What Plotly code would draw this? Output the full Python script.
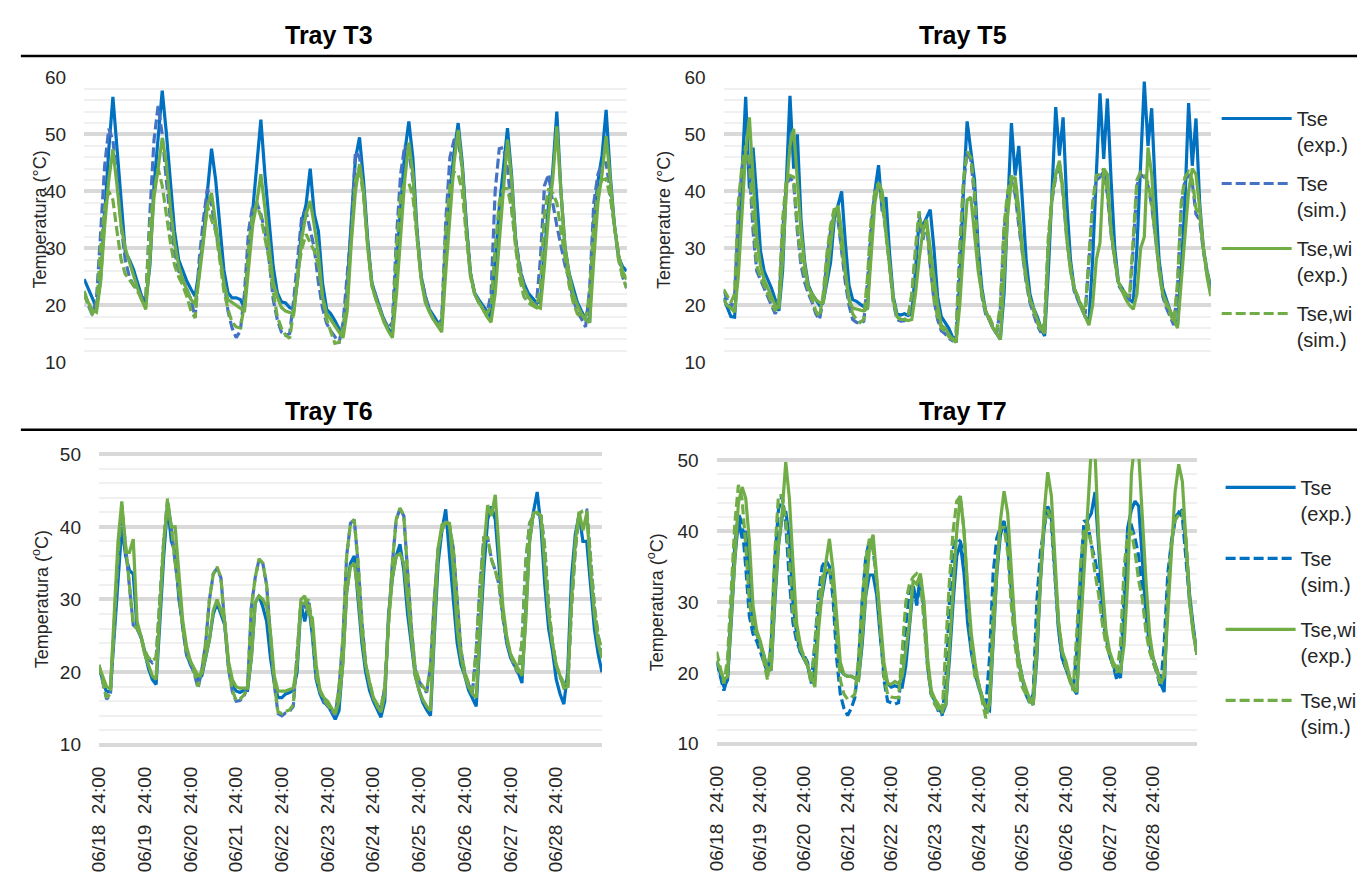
import plotly.graph_objects as go

# ---------------------------------------------------------------------------
# Data: surface temperatures sampled every 2 h from 06/18 24:00 over 11 days
# (one row = one day, values at 0,2,...,22 h; last value closes day 11)
# ---------------------------------------------------------------------------
HOURS = list(range(0, 266, 2))
DAYS = [h / 24 for h in HOURS]

DATES = ["06/18", "06/19", "06/20", "06/21", "06/22", "06/23",
         "06/24", "06/25", "06/26", "06/27", "06/28"]
TIME_OF_DAY = "24:00"

SERIES_NAMES = ["Tse<br>(exp.)", "Tse<br>(sim.)", "Tse,wi<br>(exp.)", "Tse,wi<br>(sim.)"]

# ---- Tray T3 ----
T3_TSE_EXP = [
    24.6, 23.0, 21.3, 19.6, 24.5, 36.0, 47.4, 56.6, 47.0, 37.7, 29.4, 28.0,
    26.3, 23.9, 21.6, 20.6, 27.0, 41.0, 50.0, 57.7, 50.3, 42.2, 33.0, 28.0,
    26.0, 24.2, 22.8, 21.6, 26.2, 32.0, 40.0, 47.5, 42.0, 34.2, 26.2, 22.2,
    21.3, 21.3, 21.0, 19.6, 29.6, 36.5, 44.5, 52.6, 42.8, 34.2, 26.8, 22.2,
    20.6, 20.4, 19.6, 19.3, 25.0, 34.8, 37.7, 44.0, 36.0, 33.0, 23.9, 19.3,
    18.5, 17.3, 15.9, 15.0, 22.8, 34.8, 45.7, 49.5, 41.7, 31.4, 23.9, 21.6,
    19.3, 17.3, 15.9, 15.0, 27.3, 37.7, 46.8, 52.3, 45.7, 33.0, 25.0, 21.6,
    19.3, 18.2, 17.0, 16.5, 27.3, 40.0, 46.8, 52.0, 45.0, 34.2, 25.6, 22.2,
    21.0, 19.9, 18.8, 17.9, 27.3, 37.1, 44.0, 51.1, 42.8, 31.4, 26.2, 23.9,
    22.2, 21.3, 20.5, 20.5, 29.6, 37.7, 43.4, 54.0, 40.0, 30.2, 25.6, 22.8,
    20.5, 19.0, 17.6, 17.3, 34.8, 41.7, 46.3, 54.3, 42.8, 34.2, 28.5, 26.8,
    26.0]
T3_TSE_SIM = [
    22.2, 20.0, 18.3, 21.0, 32.5, 44.5, 51.0, 49.0, 42.5, 34.0, 28.0, 25.0,
    23.5, 22.8, 21.5, 21.0, 36.0, 49.0, 55.0, 50.0, 42.0, 35.0, 29.5, 26.0,
    24.5, 22.8, 21.0, 17.8, 28.0, 35.0, 40.5, 37.5, 33.0, 29.0, 24.5, 19.0,
    16.0, 14.3, 15.5, 22.0, 33.0, 37.5, 38.0, 36.0, 33.0, 28.0, 21.0, 17.5,
    15.3, 14.7, 15.0, 21.0, 28.0, 36.0, 36.5, 33.0, 30.0, 24.0, 19.5, 16.8,
    15.5, 14.5, 13.3, 17.0, 26.0, 33.5, 47.0, 46.0, 40.0, 31.0, 23.9, 21.6,
    19.3, 17.5, 16.0, 17.0, 32.0, 43.0, 48.0, 47.0, 42.0, 33.0, 25.0, 21.6,
    19.0, 17.5, 16.5, 17.5, 35.0, 46.0, 49.0, 49.0, 44.0, 34.0, 25.6, 22.0,
    20.5, 19.5, 18.5, 22.0, 40.0, 47.5, 47.7, 44.0, 37.0, 31.5, 27.0, 23.5,
    21.5, 20.5, 19.9, 28.0, 41.0, 43.0, 38.0, 34.0, 30.5, 27.0, 24.5, 21.0,
    19.0, 17.5, 16.2, 23.0, 38.0, 43.0, 45.0, 45.0, 40.0, 34.0, 29.0, 25.0,
    23.0]
T3_TSEWI_EXP = [
    22.5, 20.5, 19.2, 18.8, 24.0, 34.0, 42.0, 47.4, 41.0, 34.0, 30.0, 27.5,
    25.0, 23.0, 21.0, 19.3, 28.0, 39.0, 44.0, 49.4, 45.0, 37.0, 31.0, 27.0,
    24.5, 22.8, 21.0, 20.3, 25.0, 31.0, 37.5, 39.7, 34.5, 30.0, 23.9, 21.0,
    20.5, 20.0, 19.5, 18.8, 27.0, 34.0, 38.0, 43.0, 37.0, 30.0, 24.0, 21.5,
    19.6, 19.0, 18.7, 18.5, 25.0, 32.0, 36.0, 38.3, 34.0, 29.0, 21.5, 18.5,
    17.5, 16.3, 15.3, 14.3, 19.0, 31.0, 40.0, 44.8, 40.0, 30.0, 23.5, 21.0,
    19.0, 17.0, 15.5, 14.3, 22.0, 33.0, 42.0, 48.6, 43.0, 32.0, 24.5, 20.5,
    18.8, 17.5, 16.3, 15.3, 26.0, 36.0, 45.0, 50.8, 44.0, 33.0, 25.5, 22.0,
    20.5, 19.3, 18.0, 17.0, 22.0, 31.0, 40.0, 49.1, 42.0, 31.0, 26.0, 23.0,
    21.5, 20.5, 19.8, 19.5, 27.0, 36.0, 42.0, 51.4, 40.0, 30.0, 25.5, 22.0,
    20.0, 18.5, 17.5, 17.0, 28.0, 38.0, 43.0, 49.7, 42.0, 34.0, 29.0, 26.0,
    24.5]
T3_TSEWI_SIM = [
    22.0, 20.0, 18.5, 19.5, 30.0, 37.0, 40.0, 38.5, 33.0, 28.0, 25.5, 24.5,
    23.5, 22.5, 21.0, 21.5, 34.0, 40.0, 44.0, 41.0, 36.0, 31.0, 27.0, 25.0,
    23.5, 21.5, 19.0, 17.8, 26.0, 32.0, 37.5, 35.0, 33.0, 28.0, 22.5, 19.3,
    17.0, 16.2, 16.0, 20.0, 30.0, 36.0, 37.7, 35.5, 32.0, 28.0, 22.5, 18.0,
    16.0, 14.8, 14.2, 19.0, 26.0, 30.0, 32.5, 31.0, 29.5, 27.0, 21.5, 17.5,
    15.5, 13.3, 13.5, 16.0, 22.0, 33.0, 42.0, 44.0, 39.0, 30.5, 23.5, 21.0,
    19.0, 17.0, 15.8, 16.0, 30.0, 39.0, 41.7, 41.5, 39.0, 32.0, 24.5, 21.0,
    19.0, 17.5, 16.5, 17.0, 33.0, 41.0, 43.4, 43.0, 40.0, 32.0, 25.0, 22.0,
    20.5, 19.5, 18.5, 20.0, 30.0, 38.0, 40.5, 40.5, 37.0, 30.0, 24.5, 21.5,
    20.5, 20.0, 19.6, 23.0, 36.0, 40.5, 39.7, 38.0, 33.0, 28.0, 23.5, 20.5,
    18.5, 17.8, 17.6, 22.0, 34.0, 40.0, 42.0, 42.2, 39.0, 34.0, 28.0, 25.0,
    23.0]

# ---- Tray T5 ----
T5_TSE_EXP = [
    21.3, 19.5, 18.0, 17.9, 28.0, 43.0, 56.6, 40.5, 47.7, 39.0, 29.6, 26.0,
    24.5, 23.0, 21.0, 19.0, 26.0, 43.0, 56.8, 44.0, 50.0, 35.0, 27.5, 23.5,
    22.0, 21.0, 20.0, 20.5, 24.0, 27.5, 35.0, 37.5, 40.0, 31.0, 23.5, 21.0,
    20.7, 20.2, 19.8, 19.3, 32.0, 40.0, 44.6, 36.5, 39.0, 29.0, 21.5, 18.5,
    18.3, 18.5, 18.2, 18.5, 26.0, 35.0, 34.0, 35.4, 36.8, 30.0, 21.5, 18.0,
    17.0, 16.0, 14.5, 13.5, 24.0, 40.0, 52.3, 47.0, 42.0, 30.0, 23.0, 19.0,
    17.5, 16.0, 15.0, 14.0, 22.0, 38.0, 52.0, 42.8, 48.0, 38.0, 28.0, 22.0,
    19.5, 18.0, 16.0, 14.6, 26.0, 40.0, 54.8, 46.3, 53.0, 38.0, 28.0, 23.0,
    21.0, 19.5, 18.0, 17.0, 28.0, 43.0, 57.2, 45.7, 56.3, 42.0, 30.0, 24.0,
    23.0, 21.5, 21.0, 20.5, 30.0, 45.0, 59.3, 48.0, 54.6, 40.0, 28.0, 23.0,
    21.0, 19.0, 17.5, 16.5, 26.0, 38.0, 55.5, 44.5, 52.8, 38.0, 30.0, 26.0,
    23.4]
T5_TSE_SIM = [
    22.5, 21.0, 19.5, 21.5, 36.0, 44.0, 47.0, 44.0, 33.0, 26.0, 24.5, 23.0,
    21.5, 20.0, 18.5, 20.0, 33.0, 41.0, 42.5, 41.5, 33.0, 27.0, 24.0, 22.0,
    20.5, 18.5, 17.5, 21.0, 28.0, 33.0, 36.0, 35.0, 29.0, 24.0, 20.0, 17.5,
    17.0, 16.8, 17.2, 24.0, 34.0, 40.0, 41.5, 38.0, 33.0, 26.5, 20.5, 17.5,
    17.2, 17.3, 17.8, 21.5, 29.0, 36.0, 31.5, 34.5, 27.0, 21.0, 17.5, 15.5,
    15.0, 14.2, 13.8, 14.5, 29.0, 41.0, 47.0, 45.5, 39.0, 27.5, 21.5, 18.5,
    17.5, 16.0, 15.0, 19.5, 33.0, 39.5, 42.0, 39.5, 34.0, 28.5, 24.0, 20.5,
    18.5, 16.5, 15.2, 16.5, 31.0, 38.5, 42.5, 44.5, 39.5, 31.5, 26.5, 22.5,
    21.0, 19.5, 18.5, 27.0, 37.0, 42.0, 42.5, 43.5, 39.5, 32.5, 27.5, 23.5,
    22.5, 21.5, 21.0, 30.0, 41.0, 43.0, 42.5, 41.0, 37.5, 31.5, 26.5, 21.5,
    19.5, 18.0, 16.5, 23.0, 37.0, 42.0, 43.0, 41.5, 36.0, 35.0, 29.5, 25.5,
    22.5]
T5_TSEWI_EXP = [
    21.0, 20.0, 19.5, 18.8, 25.0, 35.0, 47.0, 53.0, 42.0, 32.0, 27.0, 24.5,
    23.0, 21.5, 20.0, 19.5, 28.0, 40.0, 48.0, 51.0, 42.0, 33.0, 27.0, 23.0,
    22.0, 21.0, 20.5, 20.5, 25.0, 30.0, 36.0, 37.5, 33.0, 26.0, 21.0, 19.5,
    19.3, 19.2, 19.0, 19.5, 28.0, 38.0, 41.5, 40.0, 33.0, 27.0, 21.0, 18.0,
    17.5, 17.5, 17.3, 17.5, 22.0, 28.0, 33.0, 35.0, 30.0, 24.0, 20.0, 16.5,
    16.0, 15.0, 14.0, 13.5, 20.0, 30.0, 38.5, 39.0, 33.0, 26.0, 22.0, 19.0,
    17.5, 16.0, 15.0, 14.0, 25.0, 36.0, 42.0, 42.5, 37.0, 30.0, 25.0, 21.0,
    19.5, 17.5, 16.0, 15.0, 30.0, 39.0, 43.0, 45.4, 40.0, 32.0, 26.0, 23.0,
    21.5, 19.5, 18.0, 16.5, 20.0, 28.0, 31.0, 44.0, 43.0, 33.0, 28.0, 24.0,
    22.5, 21.0, 20.0, 19.3, 22.0, 30.0, 32.0, 47.7, 43.0, 33.0, 26.0, 22.0,
    20.5, 19.0, 17.5, 16.0, 24.0, 32.0, 40.0, 44.0, 43.0, 37.0, 30.0, 25.0,
    21.6]
T5_TSEWI_SIM = [
    22.8, 21.5, 20.5, 22.0, 38.0, 44.5, 48.0, 45.0, 35.0, 27.0, 25.0, 23.5,
    22.0, 20.5, 19.0, 21.0, 35.0, 42.0, 42.8, 42.5, 34.0, 28.0, 25.0, 22.5,
    21.0, 19.0, 18.0, 22.0, 29.0, 34.0, 37.0, 36.0, 30.0, 25.0, 21.0, 18.5,
    17.5, 17.0, 17.5, 25.0, 35.0, 40.0, 41.5, 38.0, 33.0, 27.0, 21.0, 18.0,
    17.5, 17.5, 18.0, 22.0, 30.0, 36.5, 32.0, 35.0, 27.0, 21.0, 18.0, 16.0,
    15.5, 14.5, 14.0, 15.0, 30.0, 42.0, 47.0, 46.0, 40.0, 28.0, 22.0, 19.0,
    18.0, 16.5, 15.5, 20.0, 34.0, 40.0, 42.8, 40.0, 35.0, 29.0, 24.5, 21.0,
    19.0, 17.0, 15.5, 17.0, 32.0, 39.0, 43.0, 45.0, 40.0, 32.0, 27.0, 23.0,
    21.5, 20.0, 19.0, 28.0, 38.0, 42.8, 43.0, 44.0, 40.0, 33.0, 28.0, 24.0,
    23.0, 22.0, 21.5, 31.0, 42.0, 43.4, 43.0, 41.5, 38.0, 32.0, 27.0, 22.0,
    20.0, 18.5, 17.0, 24.0, 38.0, 42.5, 43.4, 42.0, 37.0, 36.0, 30.0, 26.0,
    22.8]

# ---- Tray T6 ----
T6_TSE_EXP = [
    20.6, 19.0, 17.2, 17.5, 25.0, 34.0, 40.0, 36.0, 34.0, 33.5, 26.0, 25.0,
    22.5, 20.5, 19.0, 18.3, 27.0, 36.0, 43.0, 38.0, 36.5, 30.0, 26.5, 22.5,
    21.0, 20.0, 19.0, 19.5, 22.0, 24.5, 28.0, 29.5, 28.0, 26.5, 21.0, 18.2,
    17.4, 17.2, 17.5, 17.5, 22.0, 29.5, 30.5, 29.0, 27.0, 22.0, 18.5, 16.5,
    16.5, 17.0, 17.2, 17.5, 20.0, 29.5, 27.0, 29.5, 25.0, 19.0, 17.0, 15.8,
    15.5, 14.5, 13.5, 14.7, 21.5, 31.0, 35.0, 36.0, 30.0, 24.0, 20.0, 17.5,
    16.0, 15.0, 13.8, 16.0, 28.0, 33.0, 36.0, 37.6, 34.0, 28.0, 24.0, 19.5,
    17.5, 15.8, 14.8, 14.0, 25.0, 35.0, 39.5, 42.4, 36.0, 30.0, 24.0, 21.0,
    19.5, 17.5, 16.5, 15.3, 25.0, 34.0, 41.0, 42.8, 41.0, 34.0, 28.0, 24.0,
    22.0, 21.0, 20.0, 18.5, 28.0, 38.0, 42.0, 44.8, 40.0, 32.0, 26.0, 23.0,
    19.0, 17.0, 15.6, 20.0, 33.0, 39.0, 41.7, 38.0, 38.0, 32.0, 26.0, 22.5,
    20.0]
T6_TSE_SIM = [
    21.0, 18.5, 16.3, 16.8, 27.0, 36.0, 42.5, 37.0, 32.0, 26.5, 26.0, 24.8,
    22.8, 21.8, 21.3, 21.8, 30.0, 38.0, 43.5, 40.0, 35.0, 31.0, 26.0, 22.3,
    21.3, 19.8, 17.8, 20.3, 24.0, 30.0, 33.5, 34.3, 33.0, 27.0, 20.5, 17.3,
    16.0, 16.1, 16.6, 18.0, 29.0, 33.0, 35.5, 35.0, 32.0, 25.0, 18.3, 14.3,
    14.0, 14.4, 14.6, 15.3, 22.0, 29.5, 29.0, 30.0, 26.0, 19.3, 17.3, 16.0,
    15.3, 14.6, 14.1, 17.8, 24.5, 36.0, 40.5, 41.0, 35.0, 27.0, 21.0, 18.3,
    16.3, 15.4, 15.0, 17.8, 27.0, 35.0, 41.0, 42.5, 41.5, 33.0, 26.0, 20.3,
    18.8, 17.8, 17.2, 20.8, 30.0, 37.0, 39.5, 40.8, 40.0, 37.0, 30.0, 23.0,
    19.8, 18.3, 17.2, 23.0, 32.0, 38.5, 38.5, 35.5, 34.0, 32.0, 27.5, 24.3,
    22.3, 20.8, 19.8, 24.0, 35.0, 40.5, 41.5, 41.8, 41.5, 37.0, 29.0, 24.0,
    20.8, 19.3, 18.3, 17.8, 29.0, 37.0, 41.8, 42.2, 42.3, 36.0, 29.0, 25.0,
    22.8]
T6_TSEWI_EXP = [
    20.8, 19.5, 18.0, 17.8, 28.0, 38.0, 43.5, 36.5, 36.5, 38.3, 27.0, 25.0,
    22.5, 21.0, 19.5, 19.0, 28.0, 38.0, 43.0, 40.0, 40.0, 33.0, 27.0, 23.5,
    21.5, 20.5, 19.5, 19.8, 22.0, 24.5, 28.5, 30.0, 28.5, 27.0, 21.5, 19.0,
    18.0, 17.8, 17.8, 17.8, 22.0, 29.5, 30.5, 30.0, 29.0, 25.5, 19.5, 17.4,
    17.4, 17.4, 17.6, 17.8, 21.0, 30.0, 30.5, 28.0, 27.5, 21.0, 17.5, 16.5,
    16.0, 15.0, 14.2, 16.0, 21.0, 31.0, 34.5, 35.0, 31.0, 25.0, 21.0, 18.5,
    16.5, 15.3, 14.5, 17.0, 27.0, 33.0, 36.0, 36.3, 35.0, 30.0, 24.5, 19.5,
    17.5, 16.2, 15.3, 14.7, 26.0, 37.0, 40.3, 40.6, 40.5, 34.0, 26.0, 22.0,
    19.5, 18.0, 17.0, 16.5, 26.0, 37.0, 43.0, 41.5, 44.4, 36.0, 29.0, 25.0,
    22.5, 21.5, 20.5, 19.5, 27.0, 38.0, 41.9, 42.0, 41.5, 34.0, 28.0, 24.0,
    21.0, 19.5, 17.8, 18.0, 30.0, 38.0, 42.1, 39.5, 41.9, 34.0, 28.0, 24.0,
    21.9]
T6_TSEWI_SIM = [
    21.0, 18.5, 16.5, 17.0, 27.0, 36.0, 43.0, 37.0, 32.0, 26.5, 26.0, 25.0,
    23.0, 22.0, 21.5, 22.0, 30.0, 38.0, 43.9, 40.0, 35.0, 31.0, 26.0, 22.5,
    21.5, 20.0, 18.0, 20.5, 24.0, 30.0, 33.5, 34.5, 33.0, 27.0, 20.5, 17.5,
    16.1, 16.3, 16.8, 18.0, 29.0, 33.0, 35.6, 35.0, 32.0, 25.0, 18.5, 14.5,
    14.3, 14.6, 14.8, 15.5, 22.0, 29.5, 29.5, 30.0, 26.0, 19.5, 17.5, 16.2,
    15.5, 14.8, 14.3, 18.0, 24.5, 36.0, 40.5, 41.0, 35.0, 27.0, 21.0, 18.5,
    16.5, 15.6, 15.2, 18.0, 27.0, 35.0, 41.0, 42.6, 41.5, 33.0, 26.0, 20.5,
    19.0, 18.0, 17.4, 21.0, 30.0, 37.0, 39.5, 40.8, 40.2, 37.0, 30.0, 23.0,
    20.0, 18.5, 17.4, 23.0, 32.0, 38.5, 38.5, 35.5, 34.0, 32.0, 27.5, 24.5,
    22.5, 21.0, 20.0, 24.0, 35.0, 40.5, 41.5, 41.9, 41.5, 37.0, 29.0, 24.0,
    21.0, 19.5, 18.5, 17.9, 29.0, 37.0, 41.8, 42.2, 42.3, 36.0, 29.0, 25.0,
    22.8]

# ---- Tray T7 ----
T7_TSE_EXP = [
    21.6, 20.0, 18.0, 19.0, 27.0, 36.0, 41.5, 39.0, 40.0, 33.0, 27.0, 25.5,
    24.0, 22.5, 20.3, 20.5, 30.0, 38.0, 42.0, 42.8, 39.0, 30.0, 25.5, 23.0,
    22.0, 21.0, 19.0, 20.5, 28.0, 31.0, 34.0, 34.5, 33.0, 25.0, 20.5, 19.8,
    19.5, 19.5, 19.2, 19.0, 24.0, 31.0, 33.8, 33.8, 31.0, 25.0, 20.5, 18.5,
    18.0, 18.2, 18.0, 18.0, 21.0, 26.0, 32.0, 30.0, 33.5, 29.0, 21.0, 17.0,
    16.0, 15.0, 14.2, 15.5, 22.0, 30.0, 36.5, 38.2, 34.0, 27.0, 23.0, 20.0,
    18.0, 16.5, 15.0, 14.7, 25.0, 34.0, 39.5, 41.2, 39.0, 33.0, 26.0, 22.0,
    19.3, 17.5, 16.3, 15.5, 22.0, 33.0, 40.5, 43.5, 42.0, 34.0, 26.0, 22.0,
    20.5, 19.3, 17.8, 17.0, 27.0, 39.0, 41.6, 42.5, 45.5, 37.0, 30.0, 25.5,
    22.5, 21.0, 20.0, 19.3, 28.0, 40.5, 43.0, 44.2, 43.5, 36.0, 28.0, 24.0,
    22.0, 20.5, 18.5, 17.3, 31.0, 38.0, 42.0, 42.5, 43.0, 38.0, 31.0, 26.5,
    22.6]
T7_TSE_SIM = [
    21.6, 19.5, 17.5, 19.5, 29.0, 38.0, 42.5, 41.0, 35.0, 28.0, 25.5, 24.5,
    23.0, 21.5, 20.0, 24.0, 36.0, 43.0, 45.0, 41.0, 33.0, 27.0, 24.5, 23.0,
    22.5, 21.5, 18.5, 24.0, 31.0, 35.0, 35.9, 35.0, 30.5, 22.0, 17.0, 15.0,
    14.0, 15.0, 16.5, 21.5, 30.0, 36.4, 38.6, 37.5, 33.0, 26.0, 19.0, 16.0,
    15.8, 15.6, 15.8, 21.0, 27.0, 32.0, 32.5, 29.5, 33.0, 28.5, 21.0, 17.0,
    16.0, 14.5, 14.0, 19.0, 30.0, 37.5, 39.0, 38.5, 36.5, 29.0, 23.0, 20.5,
    18.5, 16.5, 15.3, 22.0, 34.0, 39.0, 40.5, 41.4, 38.0, 32.0, 25.5, 21.5,
    19.0, 17.0, 15.8, 17.0, 30.0, 37.0, 40.5, 43.5, 41.0, 33.0, 26.0, 22.0,
    20.5, 19.3, 17.8, 23.0, 34.0, 41.5, 41.0, 38.0, 36.0, 33.0, 28.0, 25.0,
    22.5, 21.0, 19.0, 21.0, 31.0, 40.5, 40.8, 39.0, 36.5, 32.0, 27.0, 23.5,
    21.5, 20.0, 18.0, 24.0, 34.0, 38.5, 41.5, 42.6, 42.0, 36.0, 30.0, 26.0,
    22.6]
T7_TSEWI_EXP = [
    21.8, 20.5, 19.0, 19.5, 28.0, 37.0, 44.0, 46.2, 44.6, 38.6, 29.5, 26.0,
    24.5, 22.5, 20.3, 20.5, 31.0, 38.0, 42.5, 49.7, 44.6, 35.4, 27.0, 24.0,
    22.0, 21.0, 19.5, 18.0, 26.0, 31.5, 35.5, 38.9, 34.5, 28.5, 21.5, 19.8,
    19.5, 19.5, 19.2, 19.0, 25.0, 32.0, 37.5, 39.5, 33.5, 27.5, 21.5, 18.5,
    18.4, 18.8, 18.5, 19.5, 23.0, 27.0, 33.0, 32.5, 34.0, 30.0, 22.0, 17.5,
    16.3, 15.5, 14.7, 15.5, 24.0, 33.0, 40.0, 44.9, 40.0, 32.0, 25.5, 21.5,
    18.4, 16.6, 15.2, 15.5, 25.0, 34.5, 41.5, 45.6, 42.5, 34.5, 26.5, 22.0,
    19.3, 17.8, 16.3, 15.5, 23.0, 33.0, 42.5, 48.3, 45.0, 36.0, 27.0, 23.0,
    21.6, 19.5, 17.8, 17.3, 25.5, 33.5, 43.0, 52.0, 51.0, 39.0, 32.0, 26.0,
    23.0, 21.5, 20.5, 20.2, 24.0, 33.0, 48.0, 53.0, 51.0, 41.0, 33.0, 25.5,
    22.0, 20.5, 18.5, 19.5, 29.0, 37.0, 45.5, 49.4, 47.0, 38.5, 30.0, 25.5,
    22.6]
T7_TSEWI_SIM = [
    23.0, 20.8, 18.5, 22.0, 31.5, 41.0, 46.5, 44.5, 38.0, 30.0, 26.5, 25.5,
    24.0, 21.5, 19.0, 25.0, 37.0, 45.0, 45.0, 41.5, 36.0, 28.5, 25.5, 23.3,
    22.5, 21.0, 18.5, 24.0, 30.0, 33.5, 34.5, 34.5, 32.0, 25.0, 19.0, 17.0,
    16.3, 16.5, 17.0, 22.0, 30.0, 36.0, 38.9, 37.5, 33.0, 26.0, 19.5, 17.0,
    16.6, 16.5, 16.5, 23.0, 30.0, 32.5, 33.5, 34.0, 33.5, 27.0, 20.5, 17.0,
    15.5, 14.8, 14.3, 24.0, 33.0, 40.0, 44.2, 44.9, 40.0, 31.0, 24.0, 19.5,
    18.4, 16.0, 13.6, 15.7, 29.0, 35.0, 40.5, 40.5, 37.0, 29.5, 24.0, 20.5,
    18.0, 17.0, 16.0, 16.5, 26.0, 34.0, 41.0, 43.0, 41.5, 34.5, 27.0, 23.0,
    20.7, 19.0, 17.5, 25.8, 35.0, 40.3, 41.0, 38.0, 34.0, 31.0, 27.0, 24.0,
    22.5, 21.0, 20.0, 24.0, 35.0, 39.5, 40.0, 37.0, 33.0, 30.5, 25.8, 23.0,
    21.5, 20.0, 18.5, 20.0, 31.0, 38.5, 41.5, 42.3, 42.8, 39.0, 30.5, 26.0,
    22.6]

# ---------------------------------------------------------------------------
# Styling
# ---------------------------------------------------------------------------
W, H = 1362, 882
FONT = "Liberation Sans, Arial, sans-serif"
TXT = "#262626"
BLUE = "#0070C0"
BLUE_SIM = "#4472C4"
GREEN = "#70AD47"
MAJOR_GRID = "#d9d9d9"
MINOR_GRID = "#f0f0f0"
PAD = 0.15
DASH = "10px,4px"


def xdom(left, right):
    return [left / W, right / W]


def ydom(top_px, bottom_px, lo, hi):
    ppd = (bottom_px - top_px) / (hi - lo)
    return [1 - (bottom_px + PAD * ppd) / H, 1 - (top_px - PAD * ppd) / H]


PANELS = [
    dict(title="Tray T3", data=[T3_TSE_EXP, T3_TSE_SIM, T3_TSEWI_EXP, T3_TSEWI_SIM],
         sim=BLUE_SIM, k="", xpx=(74, 623), ypx=(70, 361), top=60, legend=None,
         ytitle="Temperatura (°C)", ytx=29, labels=False, tx=322, ty=27),
    dict(title="Tray T5", data=[T5_TSE_EXP, T5_TSE_SIM, T5_TSEWI_EXP, T5_TSEWI_SIM],
         sim=BLUE_SIM, k="2", xpx=(721, 1214), ypx=(70, 361), top=60, legend="legend",
         ytitle="Temperature (°C)", ytx=661, labels=False, tx=963, ty=27),
    dict(title="Tray T6", data=[T6_TSE_EXP, T6_TSE_SIM, T6_TSEWI_EXP, T6_TSEWI_SIM],
         sim=BLUE_SIM, k="3", xpx=(89, 598), ypx=(455, 752), top=50, legend=None,
         ytitle="Temperatura (<sup>o</sup>C)", ytx=30, labels=True, tx=322, ty=411),
    dict(title="Tray T7", data=[T7_TSE_EXP, T7_TSE_SIM, T7_TSEWI_EXP, T7_TSEWI_SIM],
         sim=BLUE, k="4", xpx=(714, 1200), ypx=(461, 751), top=50, legend="legend2",
         ytitle="Temperatura (<sup>o</sup>C)", ytx=653, labels=True, tx=963, ty=411),
]

fig = go.Figure()
annotations = []
layout_axes = {}

for p in PANELS:
    colours = [BLUE, p["sim"], GREEN, GREEN]
    dashes = ["solid", DASH, "solid", DASH]
    for i, (vals, name) in enumerate(zip(p["data"], SERIES_NAMES)):
        fig.add_trace(go.Scatter(
            x=DAYS, y=vals, mode="lines", name=name,
            line=dict(color=colours[i], width=3.2, dash=dashes[i]),
            xaxis="x" + p["k"], yaxis="y" + p["k"],
            showlegend=p["legend"] is not None,
            legend=p["legend"] or "legend",
            legendgroup=p["title"] + str(i),
            hoverinfo="skip",
        ))

    xa = dict(domain=xdom(*p["xpx"]), range=[0, 11], anchor="y" + p["k"],
              showgrid=False, zeroline=False, showline=False, ticks="",
              fixedrange=True)
    if p["labels"]:
        xa.update(tickmode="array", tickvals=list(range(len(DATES))),
                  ticktext=[d + "\u00a0\u00a0" + TIME_OF_DAY for d in DATES],
                  tickangle=-90, ticklabelstandoff=16,
                  tickfont=dict(family=FONT, size=19, color=TXT))
    else:
        xa.update(showticklabels=False)

    ya = dict(domain=ydom(p["ypx"][0], p["ypx"][1], 10, p["top"]),
              range=[10 - PAD, p["top"] + PAD], anchor="x" + p["k"],
              tickmode="linear", tick0=10, dtick=10,
              showgrid=True, gridcolor=MAJOR_GRID, gridwidth=3.5,
              minor=dict(tick0=10, dtick=2, showgrid=True,
                         gridcolor=MINOR_GRID, gridwidth=2, ticks=""),
              zeroline=False, showline=False, ticks="", ticklabelstandoff=17,
              tickfont=dict(family=FONT, size=19, color=TXT), fixedrange=True)

    layout_axes["xaxis" + p["k"]] = xa
    layout_axes["yaxis" + p["k"]] = ya

    annotations.append(dict(
        text="<b>" + p["title"] + "</b>", x=p["tx"] / W, y=1 - p["ty"] / H,
        xref="paper", yref="paper", showarrow=False, xanchor="center", yanchor="middle",
        font=dict(family=FONT, size=25, color="#000000")))
    ymid = (p["ypx"][0] + p["ypx"][1]) / 2
    annotations.append(dict(
        text=p["ytitle"], x=p["ytx"] / W, y=1 - ymid / H, xref="paper", yref="paper",
        showarrow=False, textangle=-90, xanchor="center", yanchor="middle",
        font=dict(family=FONT, size=18, color=TXT)))

legend_common = dict(
    xanchor="left", yanchor="top", orientation="v", valign="top",
    itemwidth=70, bgcolor="rgba(0,0,0,0)", borderwidth=0,
    font=dict(family=FONT, size=20, color=TXT), itemclick=False, itemdoubleclick=False,
)

fig.update_layout(
    width=W, height=H, margin=dict(l=0, r=0, t=0, b=0),
    paper_bgcolor="white", plot_bgcolor="white",
    showlegend=True,
    legend=dict(x=1220 / W, y=1 - 92 / H, tracegroupgap=10, **legend_common),
    legend2=dict(x=1224 / W, y=1 - 469 / H, tracegroupgap=16, **legend_common),
    annotations=annotations,
    shapes=[
        dict(type="line", xref="paper", yref="paper", x0=10 / W, x1=1,
             y0=1 - 48 / H, y1=1 - 48 / H, line=dict(color="#000000", width=2.5)),
        dict(type="line", xref="paper", yref="paper", x0=10 / W, x1=1,
             y0=1 - 430 / H, y1=1 - 430 / H, line=dict(color="#000000", width=2.5)),
    ],
    **layout_axes,
)

# page body without default margin so the figure sits at the window origin
fig.write_html("out.html",
               post_script="document.body.style.margin='0';document.body.style.overflow='hidden';")
